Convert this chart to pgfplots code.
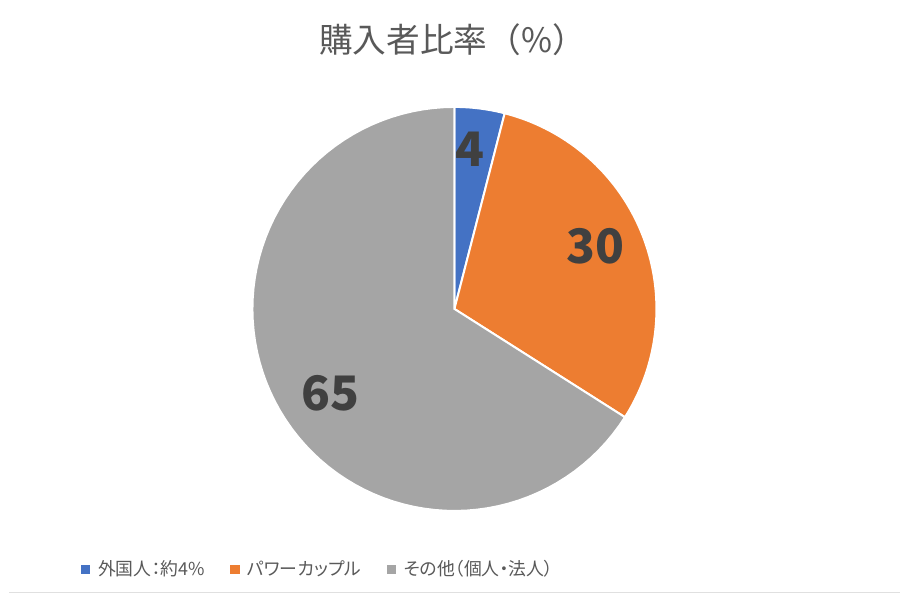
\documentclass[border=0pt]{standalone}
\usepackage{pgfplots}
\usepackage{pgfplotstable}
\pgfplotsset{compat=1.18}
\usepackage{fontspec}
\setmainfont{Noto Sans CJK JP}
\newfontfamily\legendfont[RawFeature=+palt]{Noto Sans CJK JP}
\definecolor{cblue}{HTML}{4472C4}
\definecolor{corange}{HTML}{ED7D31}
\definecolor{cgray}{HTML}{A5A5A5}
\definecolor{ctext}{HTML}{595959}
\definecolor{clabel}{HTML}{404040}

% purchaser share (%)
\pgfplotstableread{
group value
foreign 4
powercouple 30
other 66
}\sharedata

\begin{document}
\pgfplotstablegetelem{0}{value}\of\sharedata \let\va\pgfplotsretval
\pgfplotstablegetelem{1}{value}\of\sharedata \let\vb\pgfplotsretval
\pgfmathsetmacro\aA{90-3.6*\va}
\pgfmathsetmacro\aB{\aA-3.6*\vb}
\begin{tikzpicture}
\begin{axis}[
    width=204pt, height=204pt, scale only axis,
    hide axis, clip=false,
    xmin=-1, xmax=1, ymin=-1, ymax=1,
    samples=80,
    legend columns=3,
    legend cell align=left,
    legend image code/.code={\fill[#1,draw=none] (0pt,-2.3pt) rectangle (4.6pt,2.3pt);},
    legend style={at={(-0.425,-0.145)}, anchor=west, draw=none, fill=none,
        inner sep=0pt, font=\legendfont\fontsize{9}{11}\selectfont, text=ctext,
        /tikz/every odd column/.append style={column sep=2pt},
        /tikz/every even column/.append style={column sep=11pt}},
]
% page frame (900x600 px)
\coordinate (pageSW) at (axis description cs:-0.6029,-0.2059);
\coordinate (pageNE) at (axis description cs:1.6029,1.2647);
\fill[white] (pageSW) rectangle (pageNE);
\draw[black!12, line width=0.6pt] (axis description cs:-0.6029,-0.201) -- (axis description cs:1.6029,-0.201);
\node[font=\fontsize{17}{20}\selectfont, text=ctext] at (axis description cs:0.495,1.1667) {購入者比率（\%）};
\addplot[fill=cblue, draw=white, line width=1pt, domain=\aA:90] ({cos(x)},{sin(x)}) -- (axis cs:0,0) -- cycle;
\addlegendentry{外国人：約4\%}
\addplot[fill=corange, draw=white, line width=1pt, domain=\aB:\aA] ({cos(x)},{sin(x)}) -- (axis cs:0,0) -- cycle;
\addlegendentry{パワーカップル}
\addplot[fill=cgray, draw=white, line width=1pt, domain=-270:\aB] ({cos(x)},{sin(x)}) -- (axis cs:0,0) -- cycle;
\addlegendentry{その他（個人・法人）}
\node[font=\fontsize{24}{28}\selectfont\bfseries, text=clabel] at (axis cs:0.078,0.789) {4};
\node[font=\fontsize{24}{28}\selectfont\bfseries, text=clabel] at (axis cs:0.696,0.309) {30};
\node[font=\fontsize{24}{28}\selectfont\bfseries, text=clabel] at (axis cs:-0.613,-0.417) {65};
\end{axis}
\pgfresetboundingbox
\path[use as bounding box] (pageSW) rectangle (pageNE);
\end{tikzpicture}
\end{document}
